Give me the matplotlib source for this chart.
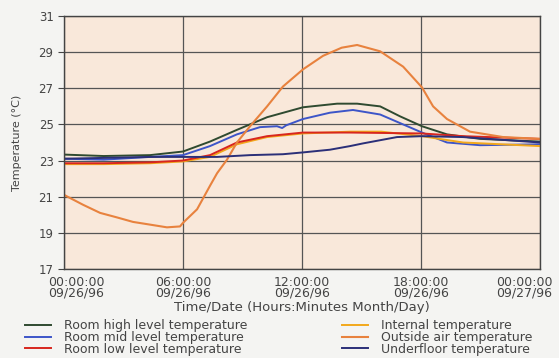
import numpy as np
import matplotlib as mpl
mpl.use('Agg')
import matplotlib.pyplot as plt
import matplotlib.transforms as mtransforms

mpl.rcParams['font.family'] = 'DejaVu Sans'
mpl.rcParams['font.size'] = 8

# hours after 00:00:00 09/26/96 -> temperature (C)
high_h = [0, 2, 4.34, 6.0, 7.36, 8.72, 10.24, 12.05, 13.77, 14.78, 15.94, 16.94, 18.05, 19.31, 20.98, 24]
high_t = [23.33, 23.25, 23.3, 23.5, 24.05, 24.7, 25.4, 25.95, 26.15, 26.15, 26.0, 25.45, 24.9, 24.45, 24.2, 24.05]

mid_h = [0, 2, 4.34, 6.0, 7.36, 8.72, 9.88, 10.74, 11.0, 11.2, 12.05, 13.41, 14.57, 15.94, 17.1, 18.05, 19.31, 20.98, 24]
mid_t = [23.1, 23.05, 23.2, 23.3, 23.8, 24.45, 24.85, 24.9, 24.8, 24.95, 25.3, 25.65, 25.8, 25.55, 25.0, 24.55, 24.0, 23.85, 23.9]

low_h = [0, 2, 4.34, 6.0, 7.36, 8.72, 10.24, 12.05, 14.42, 18.05, 20.12, 24]
low_t = [22.85, 22.85, 22.9, 23.0, 23.3, 24.0, 24.35, 24.55, 24.55, 24.5, 24.35, 24.2]

int_h = [0, 2, 4.34, 6.0, 7.36, 8.72, 10.24, 12.05, 14.42, 16, 18.05, 20.12, 24]
int_t = [22.8, 22.8, 22.85, 22.95, 23.2, 23.9, 24.3, 24.5, 24.6, 24.6, 24.35, 24.0, 23.8]

out_h = [0, 0.96, 1.82, 2.67, 3.48, 4.34, 5.19, 5.85, 6.0, 6.71, 7.36, 7.72, 8.22, 8.72, 9.38, 10.24,
         11.04, 12.05, 13.06, 14.0, 14.78, 15.94, 17.1, 18.05, 18.61, 19.31, 20.47, 22.14, 24]
out_t = [21.1, 20.55, 20.1, 19.85, 19.6, 19.45, 19.3, 19.35, 19.55, 20.3, 21.6, 22.3, 23.05, 24.0, 24.9, 26.0,
         27.1, 28.05, 28.8, 29.25, 29.4, 29.05, 28.2, 27.05, 26.0, 25.3, 24.6, 24.3, 24.2]

floor_h = [0, 4.34, 7.72, 9.38, 11.04, 12.05, 13.41, 14.42, 15.08, 16.79, 18.05, 20.12, 24]
floor_t = [23.1, 23.2, 23.2, 23.3, 23.35, 23.45, 23.6, 23.8, 23.95, 24.3, 24.35, 24.3, 24.0]

x_ticks = [0, 6, 12, 18, 24]
x_labels = ['00:00:00\n09/26/96', '06:00:00\n09/26/96', '12:00:00\n09/26/96',
            '18:00:00\n09/26/96', '00:00:00\n09/27/96']
y_ticks = [17, 19, 21, 23, 25, 27, 29, 31]

TXT = '#444444'

fig = plt.figure(figsize=(5.59, 3.58), dpi=100, facecolor='#f4f4f2')
ax = fig.add_axes([0.1145, 0.249, 0.8515, 0.706])
ax.set_facecolor('#f9e8da')

l1, = ax.plot(high_h, high_t, color='#2f4a30', lw=1.4, label='Room high level temperature')
l2, = ax.plot(mid_h, mid_t, color='#3d55c8', lw=1.4, label='Room mid level temperature')
l4, = ax.plot(int_h, int_t, color='#f2a81c', lw=1.4, label='Internal temperature')
l3, = ax.plot(low_h, low_t, color='#d8261e', lw=1.4, label='Room low level temperature')
l5, = ax.plot(out_h, out_t, color='#e8823e', lw=1.5, label='Outside air temperature')
l6, = ax.plot(floor_h, floor_t, color='#2b2f78', lw=1.4, label='Underfloor temperature')

ax.set_xlim(0, 24)
ax.set_ylim(17, 31)
ax.set_xticks(x_ticks)
ax.set_xticklabels(x_labels, fontsize=9, color=TXT, linespacing=0.78)
ax.set_yticks(y_ticks)
ax.tick_params(axis='y', labelsize=8.5, labelcolor=TXT, length=4, color=TXT)
ax.tick_params(axis='x', length=0, pad=5)
ax.grid(True, color='#555555', lw=0.9)
for s in ax.spines.values():
    s.set_color(TXT)
    s.set_linewidth(1.0)

# first and last date labels sit inward from the axis ends
tl = ax.get_xticklabels()
tl[0].set_transform(tl[0].get_transform() + mtransforms.ScaledTranslation(12 / 100, 0, fig.dpi_scale_trans))
tl[-1].set_transform(tl[-1].get_transform() + mtransforms.ScaledTranslation(-16 / 100, 0, fig.dpi_scale_trans))

ax.set_xlabel('Time/Date (Hours:Minutes Month/Day)', fontsize=9.5, color=TXT, labelpad=1)
ax.set_ylabel('Temperature (°C)', fontsize=8, color=TXT, labelpad=12)

leg_kw = dict(loc='upper left', frameon=False, fontsize=9, handlelength=2.1, handletextpad=1.0,
              labelspacing=-0.1, borderaxespad=0)
leg1 = fig.legend(handles=[l1, l2, l3], bbox_to_anchor=(0.036, 0.122), **leg_kw)
leg2 = fig.legend(handles=[l4, l5, l6], bbox_to_anchor=(0.603, 0.122), **leg_kw)
for lg in (leg1, leg2):
    for t in lg.get_texts():
        t.set_color(TXT)

plt.savefig('out.png', dpi=100, facecolor=fig.get_facecolor())
